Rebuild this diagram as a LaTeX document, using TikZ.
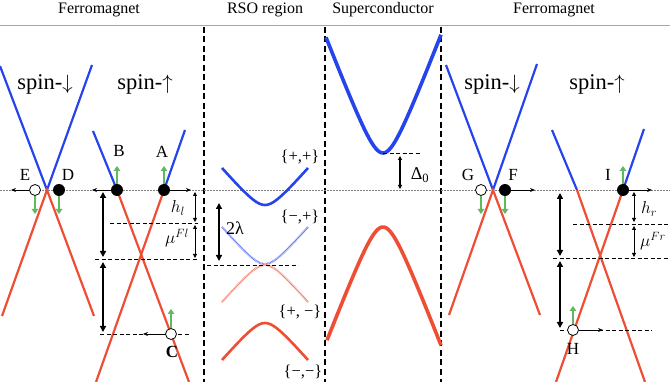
\documentclass[tikz,border=0pt]{standalone}
\usepackage{fontspec}
\setmainfont{Liberation Serif}
\usetikzlibrary{arrows.meta}
\definecolor{bandblue}{RGB}{38,68,235}
\definecolor{bandred}{RGB}{238,78,52}
\definecolor{spingreen}{RGB}{95,185,95}
\tikzset{
  upper/.style={bandblue,line width=2.2pt},
  lower/.style={bandred,line width=2.2pt},
  wall/.style={line width=1.5pt,dash pattern=on 6pt off 3.5pt},
  level/.style={line width=0.6pt,dash pattern=on 4pt off 2.5pt},
  fermi/.style={gray,line width=0.5pt,dash pattern=on 1.5pt off 1.5pt},
  elec/.style={circle,fill=black,minimum size=12pt,inner sep=0pt},
  hole/.style={circle,draw=black,fill=white,line width=0.8pt,minimum size=11pt,inner sep=0pt},
  spinarrow/.style={spingreen,line width=2pt,-{Triangle[length=5pt,width=6.5pt]}},
  karrow/.style={line width=0.9pt,-{Stealth[length=5pt,width=4pt]}},
  gaparrow/.style={line width=1.8pt,{Triangle[length=6pt,width=6pt]}-{Triangle[length=6pt,width=6pt]}},
  thingap/.style={line width=0.8pt,{Triangle[length=4pt,width=4pt]}-{Triangle[length=4pt,width=4pt]}},
  tag/.style={font=\fontsize{17}{20}\selectfont},
  head/.style={font=\fontsize{16}{19}\selectfont},
  spinlabel/.style={font=\fontsize{22.5}{26}\selectfont},
  bandtag/.style={font=\fontsize{16.5}{19}\selectfont},
}
\begin{document}
\begin{tikzpicture}[x=1pt,y=-1pt]
\useasboundingbox (0,0) rectangle (670,382);
% headers and walls
\node[head] (fl) at (99,10) {Ferromagnet};
\node[head] (rso) at (265,10) {RSO region};
\node[head] (sc) at (383,10) {Superconductor};
\node[head] (fr) at (554,10) {Ferromagnet};
\draw[gray!70,line width=1pt] (0,26) -- (670,26);
\draw[wall] (204,27) -- (204,382);
\draw[wall] (325,27) -- (325,382);
\draw[wall] (441,27) -- (441,382);
\draw[fermi] (0,190) -- (670,190);
\node[spinlabel] (dnl) at (45,84) {spin-$\downarrow$};
\node[spinlabel] (upl) at (145,84) {spin-$\uparrow$};
\node[spinlabel] (dnr) at (492,84) {spin-$\downarrow$};
\node[spinlabel] (upr) at (597,84) {spin-$\uparrow$};
% left ferromagnet bands
\draw[upper] (0,66) -- (47,190) -- (92,65);
\draw[lower] (2,316) -- (47,190) -- (94,316);
\draw[upper] (93,131) -- (117,190);
\draw[lower] (117,190) -- (189,382);
\draw[upper] (185,130) -- (164,190);
\draw[lower] (164,190) -- (96,382);
% right ferromagnet bands
\draw[upper] (446,65) -- (493,190) -- (537,64);
\draw[lower] (449,315) -- (493,190) -- (540,315);
\draw[upper] (552,130) -- (577,190);
\draw[lower] (577,190) -- (645,382);
\draw[upper] (644,129) -- (623,190);
\draw[lower] (623,190) -- (556,382);
% RSO bands
\draw[upper,line width=2.6pt] plot[domain=-43:43,samples=41] ({265+\x},{205-10*(sqrt(2.25+(0.1158*\x)^2)-1.5)});
\draw[bandblue!75,line width=2pt,dash pattern=on 0.7pt off 0.7pt] plot[domain=-43:43,samples=41] ({265+\x},{264-10*(sqrt(2.25+(0.1158*\x)^2)-1.5)});
\draw[bandred!75,line width=2pt,dash pattern=on 0.7pt off 0.7pt] plot[domain=-43:43,samples=41] ({265+\x},{265+10*(sqrt(2.25+(0.1158*\x)^2)-1.5)});
\draw[lower,line width=2.6pt] plot[domain=-43:43,samples=41] ({265+\x},{323+10*(sqrt(2.25+(0.1158*\x)^2)-1.5)});
\node[bandtag] (pp) at (300,157) {\{+,+\}};
\node[bandtag] (mp) at (300,217) {\{−,+\}};
\node[bandtag] (pm) at (300,312) {\{+, −\}};
\node[bandtag] (mm) at (303,372) {\{−,−\}};
\draw[level] (207,265) -- (298,265);
\coordinate (lamtop) at (219,203);
\coordinate (lambot) at (219,261);
\draw[gaparrow] (lamtop) -- (lambot);
\node[tag,font=\fontsize{18}{21}\selectfont] (lam) at (235,228) {2λ};
% superconductor bands
\draw[upper,line width=3.6pt] plot[domain=-57:58,samples=61] ({383+\x},{190-10*sqrt(13.69+(0.26*\x)^2)});
\draw[lower,line width=3.6pt] plot[domain=-56:58,samples=61] ({383+\x},{190+10*sqrt(13.69+(0.26*\x)^2)});
\draw[level] (383,153) -- (420,153);
\coordinate (deltop) at (400,156);
\coordinate (delbot) at (400,189);
\draw[thingap,line width=1.2pt] (deltop) -- (delbot);
\node[tag,font=\fontsize{18}{21}\selectfont] (del) at (420,175) {Δ\textsubscript{0}};
% left levels
\draw[level] (110,223) -- (198,223);
\draw[level] (95,259) -- (198,259);
\draw[level] (100,334) -- (190,334);
\coordinate (l1) at (103,192);
\coordinate (l2) at (103,257);
\coordinate (l3) at (103,262);
\coordinate (l4) at (103,332);
\draw[gaparrow] (l1) -- (l2);
\draw[gaparrow] (l3) -- (l4);
\coordinate (hl1) at (195,192);
\coordinate (hl2) at (195,222);
\coordinate (hl3) at (195,225);
\coordinate (hl4) at (195,258);
\draw[thingap] (hl1) -- (hl2);
\draw[thingap] (hl3) -- (hl4);
\node[tag] (hl) at (178,208) {$h_l$};
\node[tag] (mul) at (177,238) {$\mu^{Fl}$};
% right levels
\draw[level] (573,224) -- (670,224);
\draw[level] (553,258) -- (670,258);
\draw[level] (560,330) -- (652,330);
\coordinate (r1) at (560,193);
\coordinate (r2) at (560,256);
\coordinate (r3) at (560,261);
\coordinate (r4) at (560,328);
\draw[gaparrow] (r1) -- (r2);
\draw[gaparrow] (r3) -- (r4);
\coordinate (hr1) at (634,192);
\coordinate (hr2) at (634,222);
\coordinate (hr3) at (634,226);
\coordinate (hr4) at (634,257);
\draw[thingap] (hr1) -- (hr2);
\draw[thingap] (hr3) -- (hr4);
\node[tag] (hr) at (649,209) {$h_r$};
\node[tag] (mur) at (653,241) {$\mu^{Fr}$};
% electrons and holes
\node[hole] (E) at (35,190) {};
\node[elec] (D) at (59,190) {};
\node[elec] (B) at (117,190) {};
\node[elec] (A) at (164,190) {};
\node[hole] (C) at (171,334) {};
\node[hole] (G) at (481,190) {};
\node[elec] (F) at (505,190) {};
\node[elec] (I) at (623,190) {};
\node[hole] (H) at (573,330) {};
\node[tag] (Etag) at (25,175) {E};
\node[tag] (Dtag) at (68,175) {D};
\node[tag] (Btag) at (119,151) {B};
\node[tag] (Atag) at (162,152) {A};
\node[tag] (Ctag) at (172,352) {\textbf{C}};
\node[tag] (Gtag) at (468,175) {G};
\node[tag] (Ftag) at (513,175) {F};
\node[tag] (Itag) at (608,175) {I};
\node[tag] (Htag) at (573,349) {H};
% momentum arrows
\coordinate (Ek) at (11,190);
\coordinate (Bk) at (92,190);
\coordinate (Ak) at (191,190);
\coordinate (Ck) at (143,334);
\coordinate (Fk) at (535,190);
\coordinate (Ik) at (652,190);
\coordinate (Hk) at (603,330);
\draw[karrow] (E) -- (Ek);
\draw[karrow] (B) -- (Bk);
\draw[karrow] (A) -- (Ak);
\draw[karrow] (C) -- (Ck);
\draw[karrow] (F) -- (Fk);
\draw[karrow] (I) -- (Ik);
\draw[karrow] (H) -- (Hk);
% spin arrows
\coordinate (Es) at (35,214);
\coordinate (Ds) at (59,214);
\coordinate (Bs) at (117,166);
\coordinate (As) at (164,166);
\coordinate (Cs) at (171,309);
\coordinate (Gs) at (481,214);
\coordinate (Fs) at (505,214);
\coordinate (Is) at (623,166);
\coordinate (Hs) at (573,306);
\foreach \p in {E,D,B,A,C,G,F,I,H}
  \draw[spinarrow] (\p) -- (\p s);
\end{tikzpicture}
\end{document}
